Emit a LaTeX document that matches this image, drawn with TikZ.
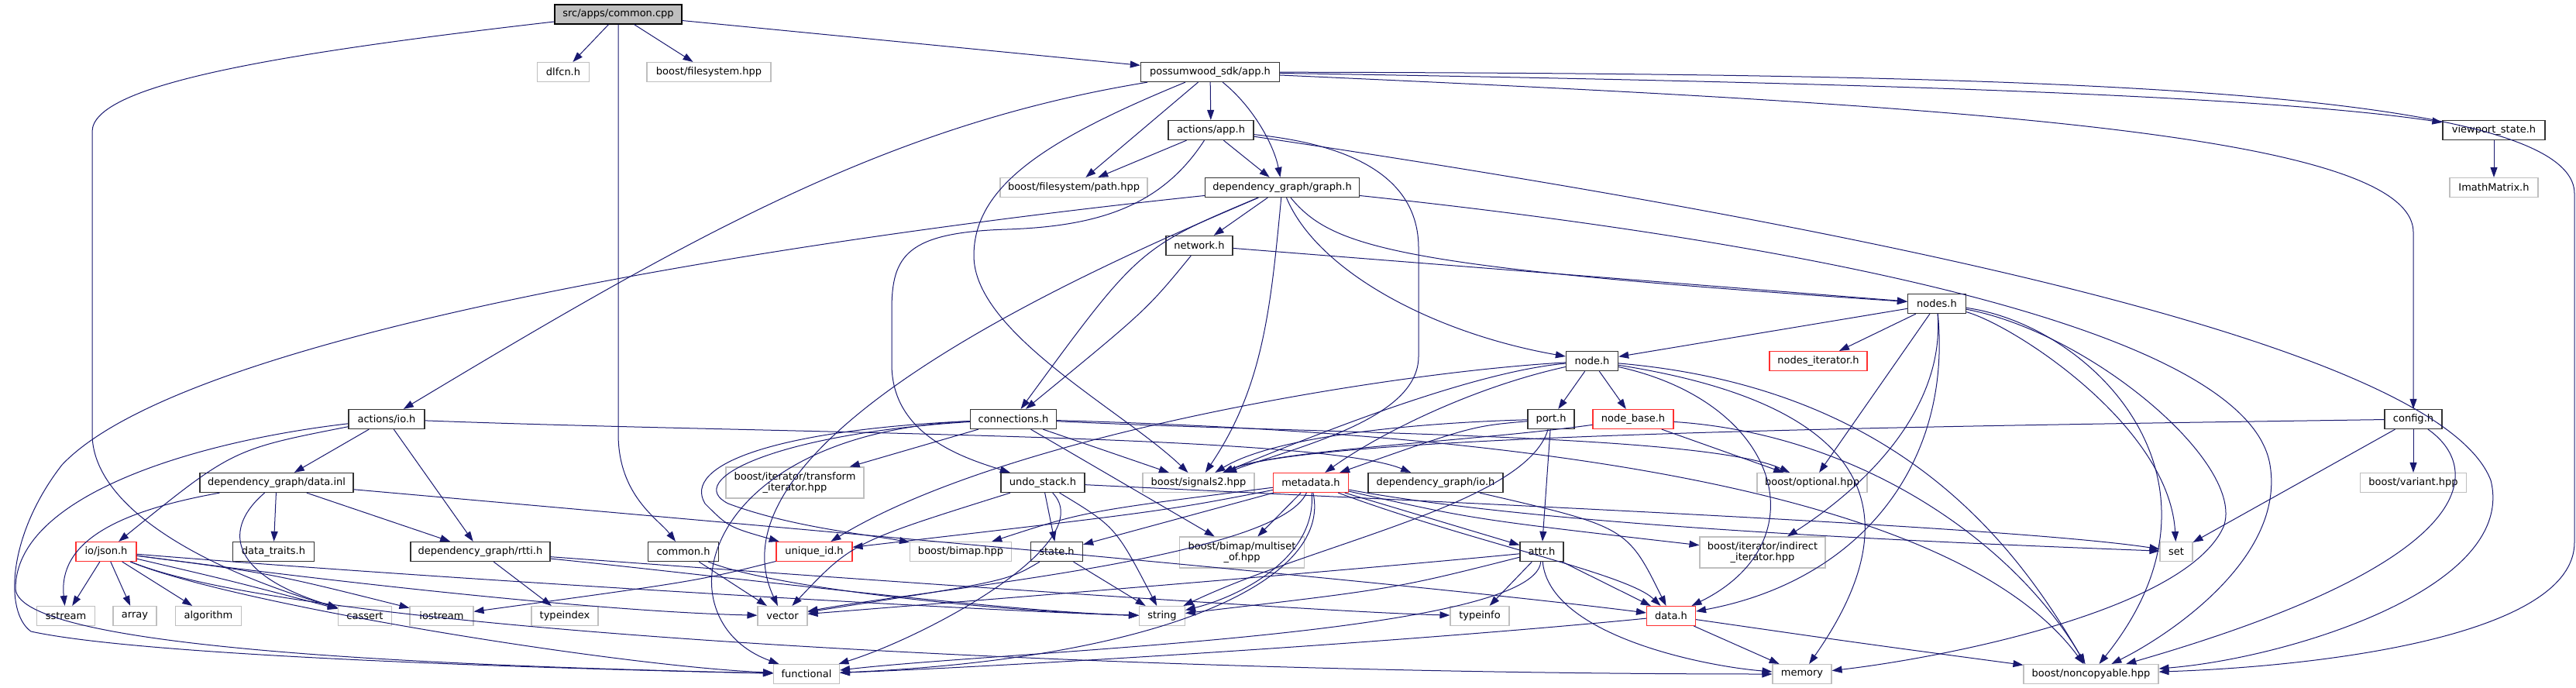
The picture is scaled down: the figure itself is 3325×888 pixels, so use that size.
\documentclass[tikz,border=0pt]{standalone}
\usepackage{fontspec}
\setmainfont{DejaVu Sans}
\usepackage{xcolor}
\usepackage{tikz}
\usetikzlibrary{arrows.meta}
\definecolor{edgeblue}{HTML}{191970}
\definecolor{boxgray}{HTML}{BFBFBF}
\definecolor{boxred}{HTML}{FF3030}

\begin{document}
\begin{tikzpicture}[
  x=1pt, y=-1pt,
  box/.style={rectangle, draw=black!80, line width=1.3pt, fill=white, minimum height=25pt, inner sep=0pt, align=center, font=\fontsize{13pt}{14pt}\selectfont},
  sysbox/.style={box, draw=boxgray, line width=1.1pt},
  redbox/.style={box, draw=boxred, line width=1.1pt},
  rootbox/.style={box, draw=black, fill=boxgray},
  arrow/.style={-{Triangle[length=13pt, width=9pt]}, line width=1pt, color=edgeblue},
]
  \useasboundingbox (0,0) rectangle (3325,888);

  \node[rootbox, minimum width=164pt] (cpp) at (798,18.5) {src/apps/common.cpp};
  \node[sysbox, minimum width=67pt] (dlfcn) at (727,93) {dlfcn.h};
  \node[sysbox, minimum width=160pt] (bfs) at (915,93) {boost/filesystem.hpp};
  \node[box, minimum width=179pt] (sdkapp) at (1562,93) {possumwood\_sdk/app.h};
  \node[box, minimum width=110pt] (actapp) at (1563,168) {actions/app.h};
  \node[box, minimum width=132pt] (viewport) at (3219,168) {viewport\_state.h};
  \node[sysbox, minimum width=190pt] (path) at (1386,242) {boost/filesystem/path.hpp};
  \node[box, minimum width=199pt] (graph) at (1655,242) {dependency\_graph/graph.h};
  \node[sysbox, minimum width=114pt] (imath) at (3219,242) {ImathMatrix.h};
  \node[box, minimum width=86pt] (network) at (1548,317) {network.h};
  \node[box, minimum width=75pt] (nodes) at (2500,392) {nodes.h};
  \node[box, minimum width=67pt] (node) at (2055,466) {node.h};
  \node[redbox, minimum width=126pt] (nodesit) at (2347,466) {nodes\_iterator.h};
  \node[box, minimum width=98pt] (actio) at (499,541) {actions/io.h};
  \node[box, minimum width=111pt] (conn) at (1308,541) {connections.h};
  \node[box, minimum width=60pt] (port) at (2002,541) {port.h};
  \node[redbox, minimum width=104pt] (nodebase) at (2108,541) {node\_base.h};
  \node[box, minimum width=74pt] (config) at (3115,541) {config.h};
  \node[box, minimum width=198pt] (datainl) at (357,623) {dependency\_graph/data.inl};
  \node[sysbox, minimum width=178pt, minimum height=40pt] (transform) at (1026,623) {boost/iterator/transform\\\_iterator.hpp};
  \node[box, minimum width=108pt] (undo) at (1346,623) {undo\_stack.h};
  \node[sysbox, minimum width=144pt] (signals) at (1547,623) {boost/signals2.hpp};
  \node[redbox, minimum width=97pt] (metadata) at (1692,623) {metadata.h};
  \node[box, minimum width=174pt] (dgio) at (1853,623) {dependency\_graph/io.h};
  \node[sysbox, minimum width=142pt] (optional) at (2339,623) {boost/optional.hpp};
  \node[sysbox, minimum width=137pt] (variant) at (3115,623) {boost/variant.hpp};
  \node[redbox, minimum width=78pt] (json) at (137,712) {io/json.h};
  \node[box, minimum width=105pt] (traits) at (353,712) {data\_traits.h};
  \node[box, minimum width=180pt] (rtti) at (620,712) {dependency\_graph/rtti.h};
  \node[box, minimum width=91pt] (commonh) at (882,712) {common.h};
  \node[redbox, minimum width=98pt] (uid) at (1051,712) {unique\_id.h};
  \node[sysbox, minimum width=131pt] (bimap) at (1240,712) {boost/bimap.hpp};
  \node[box, minimum width=67pt] (state) at (1364,712) {state.h};
  \node[sysbox, minimum width=161pt, minimum height=40pt] (multiset) at (1603,713) {boost/bimap/multiset\\\_of.hpp};
  \node[box, minimum width=56pt] (attr) at (1990,712) {attr.h};
  \node[sysbox, minimum width=162pt, minimum height=40pt] (indirect) at (2275,713) {boost/iterator/indirect\\\_iterator.hpp};
  \node[sysbox, minimum width=42pt] (set) at (2809,712) {set};
  \node[sysbox, minimum width=75pt] (sstream) at (85,795) {sstream};
  \node[sysbox, minimum width=56pt] (array) at (174,795) {array};
  \node[sysbox, minimum width=85pt] (algorithm) at (269,795) {algorithm};
  \node[sysbox, minimum width=69pt] (cassert) at (471,795) {cassert};
  \node[sysbox, minimum width=82pt] (iostream) at (570,795) {iostream};
  \node[sysbox, minimum width=86pt] (typeindex) at (729,795) {typeindex};
  \node[sysbox, minimum width=64pt] (vector) at (1010,795) {vector};
  \node[sysbox, minimum width=59pt] (string) at (1500,795) {string};
  \node[sysbox, minimum width=76pt] (typeinfo) at (1910,795) {typeinfo};
  \node[redbox, minimum width=63pt] (datah) at (2157,795) {data.h};
  \node[sysbox, minimum width=85pt] (functional) at (1041,870) {functional};
  \node[sysbox, minimum width=76pt] (memory) at (2326,870) {memory};
  \node[sysbox, minimum width=174pt] (noncopy) at (2699,870) {boost/noncopyable.hpp};

  \draw[arrow] (cpp) -- (dlfcn);
  \draw[arrow] (cpp) -- (bfs);
  \draw[arrow] (cpp) -- (sdkapp);
  \draw[arrow] (cpp) -- (798,560) .. controls (798,640) and (850,670) .. (commonh);
  \draw[arrow] (cpp) .. controls (350,70) and (119,110) .. (119,170) -- (119,560) .. controls (119,650) and (250,730) .. (cassert);

  \draw[arrow] (sdkapp) -- (actapp);
  \draw[arrow] (sdkapp) -- (path);
  \draw[arrow] (sdkapp) .. controls (1620,140) and (1645,190) .. (graph);
  \draw[arrow] (sdkapp) .. controls (1150,160) and (900,300) .. (actio);
  \draw[arrow] (sdkapp) .. controls (1350,180) and (1257,240) .. (1257,330) .. controls (1257,430) and (1450,530) .. (signals);
  \draw[arrow] (sdkapp) .. controls (2300,105) and (2900,120) .. (viewport);
  \draw[arrow] (sdkapp) .. controls (2500,135) and (3115,170) .. (3115,300) -- (config);
  \draw[arrow] (sdkapp) .. controls (2600,95) and (3323,110) .. (3323,250) -- (3323,700) .. controls (3323,820) and (3000,860) .. (noncopy);
  \draw[arrow] (viewport) -- (imath);

  \draw[arrow] (actapp) -- (path);
  \draw[arrow] (actapp) -- (graph);
  \draw[arrow] (actapp) .. controls (1500,265) and (1420,292) .. (1300,296) .. controls (1170,300) and (1151,330) .. (1151,400) -- (1151,470) .. controls (1151,560) and (1240,590) .. (undo);
  \draw[arrow] (actapp) .. controls (1780,190) and (1831,250) .. (1831,320) -- (1831,460) .. controls (1831,540) and (1680,575) .. (signals);
  \draw[arrow] (actapp) .. controls (2450,300) and (3150,450) .. (3215,620) .. controls (3250,760) and (2950,850) .. (noncopy);

  \draw[arrow] (graph) -- (network);
  \draw[arrow] (graph) .. controls (1470,320) .. (conn);
  \draw[arrow] (graph) .. controls (1720,320) and (1800,345) .. (nodes);
  \draw[arrow] (graph) .. controls (1700,350) and (1850,430) .. (node);
  \draw[arrow] (graph) .. controls (1640,400) and (1630,500) .. (signals);
  \draw[arrow] (graph) .. controls (1100,300) and (250,420) .. (80,600) .. controls (10,690) and (5,790) .. (40,815) .. controls (200,850) and (800,865) .. (functional);
  \draw[arrow] (graph) .. controls (2300,310) and (2900,420) .. (2930,600) .. controls (2950,720) and (2800,820) .. (noncopy);
  \draw[arrow] (graph) .. controls (1450,330) and (900,560) .. (vector);

  \draw[arrow] (network) -- (nodes);
  \draw[arrow] (network) .. controls (1480,400) .. (conn);

  \draw[arrow] (nodes) -- (node);
  \draw[arrow] (nodes) -- (nodesit);
  \draw[arrow] (nodes) -- (optional);
  \draw[arrow] (nodes) .. controls (2600,420) and (2800,550) .. (set);
  \draw[arrow] (nodes) .. controls (2700,430) and (2900,600) .. (2870,680) .. controls (2820,790) and (2500,850) .. (memory);
  \draw[arrow] (nodes) .. controls (2700,420) and (2900,620) .. (noncopy);
  \draw[arrow] (nodes) .. controls (2510,520) and (2420,620) .. (indirect);
  \draw[arrow] (nodes) .. controls (2520,600) and (2400,750) .. (datah);

  \draw[arrow] (node) -- (port);
  \draw[arrow] (node) -- (nodebase);
  \draw[arrow] (node) .. controls (1900,500) and (1780,560) .. (metadata);
  \draw[arrow] (node) .. controls (1900,480) and (1700,560) .. (signals);
  \draw[arrow] (node) .. controls (1800,480) and (1300,560) .. (uid);
  \draw[arrow] (node) .. controls (2400,520) and (2480,650) .. (memory);
  \draw[arrow] (node) .. controls (2450,500) and (2600,700) .. (noncopy);
  \draw[arrow] (node) .. controls (2300,520) and (2350,700) .. (datah);

  \draw[arrow] (conn) -- (transform);
  \draw[arrow] (conn) -- (signals);
  \draw[arrow] (conn) -- (multiset);
  \draw[arrow] (conn) .. controls (1000,560) and (880,620) .. (940,650) .. controls (1020,680) and (1120,690) .. (bimap);
  \draw[arrow] (conn) .. controls (1000,555) and (880,600) .. (910,650) .. controls (940,680) .. (uid);
  \draw[arrow] (conn) .. controls (900,560) and (850,800) .. (functional);
  \draw[arrow] (conn) .. controls (1700,560) and (2200,560) .. (optional);
  \draw[arrow] (conn) .. controls (1800,555) and (2500,600) .. (noncopy);

  \draw[arrow] (port) -- (attr);
  \draw[arrow] (port) .. controls (1850,545) and (1650,560) .. (signals);
  \draw[arrow] (port) .. controls (1900,550) .. (metadata);
  \draw[arrow] (port) .. controls (1970,650) and (1700,700) .. (string);

  \draw[arrow] (nodebase) .. controls (1900,570) and (1650,580) .. (signals);
  \draw[arrow] (nodebase) -- (optional);
  \draw[arrow] (nodebase) .. controls (2400,560) and (2600,700) .. (noncopy);

  \draw[arrow] (config) -- (variant);
  \draw[arrow] (config) -- (set);
  \draw[arrow] (config) .. controls (3200,600) and (3220,720) .. (noncopy);
  \draw[arrow] (config) .. controls (2500,550) and (1700,560) .. (signals);

  \draw[arrow] (actio) -- (datainl);
  \draw[arrow] (actio) .. controls (300,580) .. (json);
  \draw[arrow] (actio) -- (rtti);
  \draw[arrow] (actio) .. controls (250,570) and (20,640) .. (20,760) .. controls (25,840) and (600,860) .. (functional);
  \draw[arrow] (actio) .. controls (1000,560) and (1700,560) .. (dgio);

  \draw[arrow] (datainl) -- (traits);
  \draw[arrow] (datainl) -- (rtti);
  \draw[arrow] (datainl) .. controls (150,660) and (75,700) .. (sstream);
  \draw[arrow] (datainl) .. controls (290,680) and (290,740) .. (cassert);
  \draw[arrow] (datainl) .. controls (1000,680) and (1800,750) .. (datah);

  \draw[arrow] (json) -- (sstream);
  \draw[arrow] (json) -- (array);
  \draw[arrow] (json) -- (algorithm);
  \draw[arrow] (json) .. controls (300,750) .. (cassert);
  \draw[arrow] (json) .. controls (350,740) .. (iostream);
  \draw[arrow] (json) .. controls (500,760) and (800,790) .. (vector);
  \draw[arrow] (json) .. controls (600,750) and (1300,790) .. (string);
  \draw[arrow] (json) .. controls (300,780) and (800,860) .. (functional);
  \draw[arrow] (json) .. controls (400,820) and (1500,870) .. (memory);

  \draw[arrow] (rtti) -- (typeindex);
  \draw[arrow] (rtti) .. controls (900,740) and (1300,790) .. (string);
  \draw[arrow] (rtti) .. controls (1000,740) and (1700,790) .. (typeinfo);

  \draw[arrow] (commonh) -- (vector);
  \draw[arrow] (commonh) .. controls (1000,760) and (1300,790) .. (string);
  \draw[arrow] (uid) .. controls (900,750) .. (iostream);

  \draw[arrow] (undo) -- (state);
  \draw[arrow] (undo) .. controls (1440,680) .. (string);
  \draw[arrow] (undo) .. controls (1100,700) .. (vector);
  \draw[arrow] (undo) .. controls (1420,700) and (1200,820) .. (functional);
  \draw[arrow] (undo) .. controls (1900,650) and (2600,680) .. (set);

  \draw[arrow] (state) -- (string);
  \draw[arrow] (state) .. controls (1300,750) .. (vector);

  \draw[arrow] (metadata) .. controls (1500,660) .. (uid);
  \draw[arrow] (metadata) .. controls (1400,660) .. (bimap);
  \draw[arrow] (metadata) -- (state);
  \draw[arrow] (metadata) -- (multiset);
  \draw[arrow] (metadata) -- (attr);
  \draw[arrow] (metadata) .. controls (1900,670) .. (indirect);
  \draw[arrow] (metadata) .. controls (1900,700) and (2100,740) .. (datah);
  \draw[arrow] (metadata) .. controls (1700,720) and (1600,770) .. (string);
  \draw[arrow] (metadata) .. controls (1650,720) and (1200,760) .. (vector);
  \draw[arrow] (metadata) .. controls (1720,750) and (1500,850) .. (functional);
  \draw[arrow] (metadata) .. controls (2000,680) and (2500,700) .. (set);

  \draw[arrow] (dgio) .. controls (2100,680) .. (datah);

  \draw[arrow] (attr) -- (typeinfo);
  \draw[arrow] (attr) -- (datah);
  \draw[arrow] (attr) .. controls (1800,760) .. (string);
  \draw[arrow] (attr) .. controls (1700,740) and (1200,780) .. (vector);
  \draw[arrow] (attr) .. controls (2000,820) and (2200,860) .. (memory);
  \draw[arrow] (attr) .. controls (1980,820) and (1300,840) .. (functional);

  \draw[arrow] (datah) -- (memory);
  \draw[arrow] (datah) .. controls (2400,830) .. (noncopy);
  \draw[arrow] (datah) .. controls (1800,830) and (1300,860) .. (functional);
\end{tikzpicture}
\end{document}
